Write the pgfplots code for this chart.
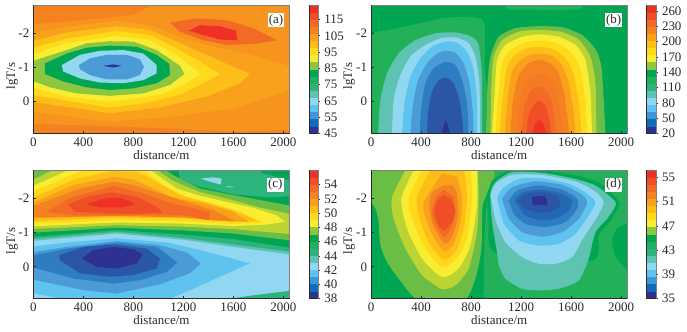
\documentclass[border=0pt]{standalone}
\usepackage{fontspec}
\setmainfont{Liberation Serif}
\usepackage{pgfplots}
\pgfplotsset{compat=1.18}
\definecolor{cnavy}{HTML}{2E3192}
\definecolor{cdark}{HTML}{2A56A5}
\definecolor{cdk}{HTML}{2468B4}
\definecolor{cblue}{HTML}{2E7DC1}
\definecolor{cmid}{HTML}{4A9BD6}
\definecolor{csky}{HTML}{5EC4EF}
\definecolor{cpale}{HTML}{92D7F2}
\definecolor{cteal}{HTML}{5FC3B1}
\definecolor{cteg}{HTML}{2DB37C}
\definecolor{cgb}{HTML}{22B058}
\definecolor{cg}{HTML}{00A651}
\definecolor{clg}{HTML}{6ABD45}
\definecolor{clh}{HTML}{8DC63F}
\definecolor{cyg}{HTML}{B9D433}
\definecolor{cy}{HTML}{F9ED32}
\definecolor{cya}{HTML}{FFD91A}
\definecolor{coa}{HTML}{FDBE17}
\definecolor{cob}{HTML}{F9A01C}
\definecolor{coc}{HTML}{F7941D}
\definecolor{cod}{HTML}{F58220}
\definecolor{coe}{HTML}{F47A23}
\definecolor{cof}{HTML}{F26A25}
\definecolor{cog}{HTML}{F04E27}
\definecolor{cr}{HTML}{EE3124}
\definecolor{cbb}{HTML}{0F6CB8}
\definecolor{cbc}{HTML}{3F97D8}
\definecolor{txt}{HTML}{2A2A2A}
\newcommand\pg[2]{\addplot[draw=none,fill=#1,mark=none,forget plot] coordinates {#2} -- cycle;}
\newcommand\bb[3]{\addplot[draw=none,fill=#1,mark=none,forget plot] coordinates {(0,#2)(1,#2)(1,#3)(0,#3)} -- cycle;}
\newcommand\bands{%
\bb{cnavy}{0}{1}\bb{cbb}{1}{2}\bb{cbc}{2}{3}\bb{csky}{3}{4}\bb{cpale}{4}{5}\bb{cteal}{5}{6}\bb{cteg}{6}{7}\bb{cgb}{7}{8}\bb{cg}{8}{9}%
\bb{clh}{9}{10}\bb{cy}{10}{11}\bb{cya}{11}{12}\bb{coa}{12}{13}\bb{cob}{13}{14}\bb{cod}{14}{15}\bb{cof}{15}{16}\bb{cog}{16}{17}\bb{cr}{17}{18}}
\tikzset{lab/.style={fill=white,inner sep=1.2pt,font=\fontsize{13}{13}\selectfont,text=txt}}
\pgfplotsset{
 common/.style={scale only axis, anchor=south west, tick align=inside, major tick length=3bp,
  tick style={draw=txt,line width=0.7pt}, axis line style={draw=black!50,line width=0.9pt},
  tick label style={font=\fontsize{13}{13}\selectfont,text=txt}, axis on top,
  after end axis/.code={\draw[txt,line width=0.9pt] (rel axis cs:0,1)--(rel axis cs:0,0)--(rel axis cs:1,0);}},
 panel/.style={common, width=256.3bp, height=128.3bp, xmin=0, xmax=2050, ymin=-2.82, ymax=0.94, y dir=reverse,
  xtick={0,400,800,1200,1600,2000}, xticklabels={0,400,800,1200,1600,2000},
  ytick={-2,-1,0}, yticklabels={-2,-1,0}, xtick pos=left, ytick pos=left,
  xticklabel style={yshift=-1bp}, yticklabel style={xshift=-0.5bp},
  xlabel={distance/m}, ylabel={lgT/s},
  xlabel style={at={(axis description cs:0.5,-0.165)},anchor=center,font=\fontsize{13}{13}\selectfont,text=txt},
  ylabel style={at={(axis description cs:-0.083,0.45)},anchor=center,font=\fontsize{13}{13}\selectfont,text=txt}},
 cbar/.style={common, width=9.3bp, height=128.3bp, xmin=0, xmax=1, ymin=0, ymax=18, xtick=\empty, ytick pos=right,
  tick align=outside, major tick length=2bp, yticklabel style={xshift=0.5bp}}
}
\begin{document}
\begin{tikzpicture}[x=1bp,y=1bp]
\path[use as bounding box] (0,0) rectangle (687,331);
% ---------- (a)
\begin{axis}[panel, at={(33.3bp,197.3bp)}]
\pg{cod}{(-50,-3)(2200,-3)(2200,1.1)(-50,1.1)}
\pg{coc}{(-20,-2.27)(267,-2.34)(533,-2.44)(800,-2.54)(987,-2.9)(2100,-2.9)(2100,0.84)(2050,0.83)(1600,0.88)(1067,0.78)(533,0.71)(-20,0.65)}
\pg{cob}{(-20,-2.0)(267,-2.2)(667,-2.37)(933,-2.24)(1173,-1.9)(1440,-1.61)(1707,-1.41)(2100,-0.98)(2100,-0.39)(1600,0.2)(1067,0.46)(613,0.59)(-20,0.29)}
\pg{coa}{(-20,-1.76)(267,-2.03)(667,-2.21)(933,-2.1)(1120,-1.8)(1387,-1.37)(1733,-0.81)(1653,-0.54)(1387,-0.15)(1013,0.17)(613,0.34)(-20,0)}
\pg{cya}{(-20,-1.56)(267,-1.85)(667,-2.07)(933,-1.95)(1173,-1.51)(1333,-1.17)(1493,-0.81)(1387,-0.59)(1173,-0.2)(880,0.05)(613,0.17)(-20,-0.2)}
\pg{cy}{(-20,-1.37)(267,-1.71)(667,-1.92)(933,-1.8)(1147,-1.37)(1333,-0.81)(1227,-0.54)(1013,-0.2)(613,0)(267,-0.15)(-20,-0.42)}
\pg{clh}{(-20,-1.17)(267,-1.51)(427,-1.71)(613,-1.77)(800,-1.76)(987,-1.51)(1173,-1.05)(1208,-0.81)(1093,-0.49)(880,-0.24)(613,-0.17)(347,-0.24)(133,-0.42)(-20,-0.63)}
\pg{cg}{(93,-1.12)(267,-1.41)(427,-1.58)(613,-1.64)(827,-1.61)(987,-1.37)(1088,-1.10)(1093,-0.78)(987,-0.54)(800,-0.39)(613,-0.34)(427,-0.42)(240,-0.59)(93,-0.81)}
\pg{cpale}{(227,-1.07)(373,-1.37)(533,-1.49)(720,-1.51)(880,-1.41)(987,-1.07)(987,-0.83)(880,-0.63)(720,-0.54)(533,-0.56)(373,-0.68)(240,-0.88)}
\pg{cmid}{(365,-1.07)(453,-1.27)(587,-1.37)(747,-1.37)(853,-1.24)(885,-1.02)(853,-0.78)(747,-0.65)(587,-0.65)(453,-0.78)(373,-0.95)}
\pg{cnavy}{(560,-1.05)(640,-1.09)(707,-1.05)(640,-1.0)}
\pg{cof}{(1093,-2.31)(1307,-2.44)(1547,-2.39)(1760,-2.15)(1952,-1.80)(1760,-1.69)(1547,-1.66)(1360,-1.80)(1173,-2.05)}
\pg{cr}{(1245,-2.08)(1333,-2.24)(1493,-2.21)(1621,-2.08)(1632,-1.80)(1493,-1.82)(1360,-1.95)}
\node[lab] at (axis cs:1941,-2.39) {(a)};
\end{axis}
\begin{axis}[cbar, at={(309bp,197.3bp)}, ytick={0,2.29,4.58,6.87,9.16,11.45,13.74,16.03}, yticklabels={45,55,65,75,85,95,105,115}]
\bands
\end{axis}
% ---------- (b)
\begin{axis}[panel, at={(371bp,197.3bp)}, ylabel style={at={(axis description cs:-0.086,0.45)}}, every axis plot/.append style={smooth,tension=0.4}]
\pg{cg}{(-50,-3)(2200,-3)(2200,1.1)(-50,1.1)}
\pg{cgb}{(1035,-2.9)(1661,-2.9)(1635,-2.70)(1101,-2.70)}
\pg{cgb}{(-20,-2.0)(168,-2.12)(381,-2.29)(568,-2.44)(755,-2.49)(875,-2.44)(909,-2.24)(909,-1.02)(901,0.98)(-20,0.98)}
\pg{cteal}{(56,0.98)(75,-0.05)(128,-0.83)(221,-1.41)(355,-1.80)(515,-2.0)(675,-2.03)(795,-1.92)(856,-1.71)(883,-1.02)(888,-0.05)(888,0.98)}
\pg{cpale}{(168,0.98)(181,-0.05)(235,-0.78)(315,-1.32)(435,-1.66)(568,-1.87)(688,-1.87)(781,-1.71)(835,-1.32)(867,-0.54)(872,0.98)}
\pg{csky}{(248,0.98)(267,0.05)(315,-0.73)(395,-1.27)(488,-1.61)(595,-1.76)(688,-1.73)(768,-1.46)(821,-0.93)(848,-0.05)(848,0.98)}
\pg{cmid}{(315,0.98)(333,0.15)(376,-0.63)(448,-1.12)(528,-1.41)(600,-1.49)(675,-1.43)(741,-1.12)(787,-0.54)(813,0.24)(821,0.98)}
\pg{cblue}{(389,0.98)(400,0.24)(435,-0.54)(501,-0.98)(595,-1.16)(675,-1.07)(728,-0.63)(768,0.05)(781,0.98)}
\pg{cdark}{(448,0.98)(456,0.34)(488,-0.29)(541,-0.63)(600,-0.70)(661,-0.54)(707,-0.05)(733,0.63)(736,0.98)}
\pg{cnavy}{(560,0.98)(600,0.56)(635,0.98)}
\pg{clg}{(920,0.98)(933,-0.54)(955,-1.32)(1021,-1.90)(1155,-2.15)(1341,-2.21)(1528,-2.18)(1688,-1.95)(1800,-1.51)(1843,-1.02)(1861,-0.05)(1875,0.98)}
\pg{cyg}{(955,0.98)(963,-0.54)(981,-1.32)(1048,-1.80)(1181,-2.05)(1341,-2.10)(1515,-2.05)(1661,-1.82)(1755,-1.32)(1795,-0.54)(1803,0.98)}
\pg{cy}{(968,0.98)(989,-0.24)(1008,-1.22)(1075,-1.66)(1208,-1.90)(1347,-1.97)(1501,-1.90)(1635,-1.66)(1715,-1.22)(1755,-0.24)(1768,0.98)}
\pg{cya}{(995,0.98)(1016,-0.05)(1048,-1.12)(1115,-1.51)(1235,-1.73)(1347,-1.79)(1475,-1.73)(1595,-1.46)(1667,-1.02)(1715,-0.05)(1728,0.98)}
\pg{coa}{(1027,0.98)(1053,-0.05)(1088,-1.02)(1155,-1.37)(1248,-1.56)(1347,-1.61)(1461,-1.53)(1555,-1.27)(1621,-0.78)(1667,0.15)(1683,0.98)}
\pg{cob}{(1069,0.98)(1093,-0.05)(1128,-0.88)(1195,-1.22)(1275,-1.37)(1347,-1.41)(1448,-1.34)(1528,-1.07)(1581,-0.54)(1621,0.34)(1635,0.98)}
\pg{cod}{(1115,0.98)(1133,0.05)(1181,-0.78)(1261,-1.12)(1347,-1.22)(1435,-1.12)(1501,-0.83)(1549,-0.15)(1587,0.98)}
\pg{coe}{(1168,0.98)(1187,0.05)(1235,-0.54)(1288,-0.75)(1347,-0.81)(1421,-0.73)(1475,-0.34)(1515,0.34)(1533,0.98)}
\pg{cof}{(1203,0.98)(1227,0.15)(1275,-0.29)(1347,-0.44)(1408,-0.29)(1453,0.15)(1480,0.98)}
\pg{cog}{(1240,0.98)(1261,0.39)(1301,0.10)(1347,-0.02)(1395,0.13)(1427,0.54)(1443,0.98)}
\pg{cr}{(1288,0.98)(1309,0.68)(1347,0.54)(1381,0.68)(1408,0.98)}
\node[lab] at (axis cs:1941,-2.39) {(b)};
\end{axis}
\begin{axis}[cbar, at={(646.7bp,197.3bp)}, ytick={0,2.15,4.30,6.45,8.6,10.75,12.9,15.05,17.2}, yticklabels={20,50,80,110,140,170,200,230,260}]
\bands
\end{axis}
% ---------- (c)
\begin{axis}[panel, at={(33.3bp,32.3bp)}, ymin=-2.81, ymax=0.93]
\pg{cpale}{(-50,-3)(2200,-3)(2200,1.1)(-50,1.1)}
\pg{cteg}{(1493,0.97)(1760,0.83)(2100,0.68)(2100,0.97)}
\pg{cteal}{(-20,-0.75)(667,-0.97)(1200,-0.79)(1600,-0.58)(2100,-0.34)(2100,-2.9)(-20,-2.9)}
\pg{cteg}{(-20,-0.81)(667,-1.02)(1200,-0.84)(1600,-0.65)(2100,-0.42)(2100,-2.9)(-20,-2.9)}
\pg{cg}{(-20,-0.87)(667,-1.07)(1200,-0.94)(1600,-0.81)(2100,-0.53)(2100,-2.9)(-20,-2.9)}
\pg{clg}{(-20,-0.99)(667,-1.14)(1200,-1.06)(1600,-0.97)(2100,-0.75)(2100,-1.75)(1600,-2.09)(1333,-2.28)(1120,-2.67)(1040,-2.86)(1030,-2.9)(-20,-2.9)}
\pg{cyg}{(-20,-1.10)(667,-1.21)(1200,-1.17)(1600,-1.10)(2100,-0.94)(2100,-1.50)(1787,-1.75)(1547,-1.99)(1333,-2.18)(1120,-2.50)(973,-2.86)(965,-2.9)(200,-2.9)(-20,-2.50)}
\pg{cy}{(-20,-1.18)(667,-1.29)(1200,-1.26)(1600,-1.19)(1867,-1.23)(2013,-1.31)(1947,-1.50)(1760,-1.72)(1547,-1.89)(1333,-2.07)(1147,-2.28)(1013,-2.62)(920,-2.86)(910,-2.9)(333,-2.9)(-20,-2.33)}
\pg{cya}{(-20,-1.26)(667,-1.36)(1200,-1.33)(1600,-1.25)(1840,-1.29)(1653,-1.60)(1440,-1.84)(1227,-2.04)(1040,-2.38)(867,-2.86)(860,-2.9)(453,-2.9)(-20,-2.17)}
\pg{coa}{(-20,-1.33)(667,-1.44)(1200,-1.41)(1573,-1.31)(1800,-1.33)(1600,-1.65)(1387,-1.87)(1173,-2.09)(987,-2.48)(827,-2.77)(640,-2.79)(347,-2.57)(-20,-1.99)}
\pg{cob}{(-20,-1.41)(667,-1.49)(1200,-1.46)(1440,-1.36)(1720,-1.31)(1600,-1.60)(1373,-1.84)(1093,-2.04)(933,-2.33)(800,-2.55)(640,-2.62)(320,-2.38)(-20,-1.84)}
\pg{cod}{(-20,-1.44)(667,-1.48)(1200,-1.44)(1440,-1.36)(1613,-1.33)(1440,-1.65)(1227,-1.89)(1013,-2.14)(800,-2.38)(640,-2.48)(373,-2.28)(-20,-1.75)}
\pg{cof}{(107,-1.60)(280,-1.99)(640,-2.36)(880,-2.14)(1067,-1.89)(1408,-1.60)(1408,-1.36)(1227,-1.50)(933,-1.52)(640,-1.50)(320,-1.50)}
\pg{cog}{(280,-1.82)(427,-2.04)(627,-2.17)(827,-2.04)(987,-1.75)(1040,-1.58)(880,-1.55)(640,-1.55)(333,-1.60)}
\pg{cr}{(432,-1.82)(533,-1.96)(627,-2.02)(720,-1.99)(813,-1.83)(720,-1.73)(533,-1.73)}
\pg{cteg}{(1160,-2.9)(1173,-2.57)(1307,-2.36)(1600,-2.11)(1893,-2.02)(2100,-2.07)(2100,-2.48)(1840,-2.72)(1787,-2.9)}
\pg{cpale}{(1339,-2.57)(1440,-2.61)(1507,-2.57)(1499,-2.40)(1413,-2.48)}
\pg{cpale}{(1533,-2.35)(1613,-2.33)(1573,-2.31)}
\pg{csky}{(-20,-0.58)(267,-0.71)(667,-0.83)(1067,-0.71)(1333,-0.49)(1733,-0.10)(1493,0.29)(1253,0.68)(1067,0.97)(267,0.97)(-20,0.75)}
\pg{cmid}{(-20,-0.42)(267,-0.58)(667,-0.75)(1013,-0.63)(1227,-0.42)(1339,-0.10)(1253,0.19)(1013,0.51)(667,0.78)(400,0.68)(-20,0.36)}
\pg{cblue}{(-20,-0.32)(267,-0.53)(667,-0.70)(987,-0.58)(1152,-0.13)(1067,0.15)(853,0.39)(640,0.49)(320,0.34)(-20,0)}
\pg{cdark}{(205,-0.34)(400,-0.58)(640,-0.65)(907,-0.53)(1013,-0.24)(987,0.05)(800,0.24)(613,0.29)(373,0.19)(213,-0.19)}
\pg{cnavy}{(387,-0.24)(480,-0.49)(640,-0.58)(800,-0.51)(875,-0.36)(827,-0.10)(667,0.05)(507,0)}
\node[lab] at (axis cs:1936,-2.39) {(c)};
\end{axis}
\begin{axis}[cbar, at={(309bp,32.3bp)}, ytick={0,2,4,6,8,10,12,14,16}, yticklabels={38,40,42,44,46,48,50,52,54}]
\bands
\end{axis}
% ---------- (d)
\begin{axis}[panel, at={(371bp,32.3bp)}, ymin=-2.81, ymax=0.93, ylabel style={at={(axis description cs:-0.086,0.45)}}, every axis plot/.append style={smooth,tension=0.4}]
\pg{cg}{(-50,-3)(2200,-3)(2200,1.1)(-50,1.1)}
\pg{cgb}{(901,0.98)(909,-1.0)(941,-2.47)(981,-2.9)(2100,-2.9)(2100,0.98)}
\pg{cg}{(2100,-1.35)(1968,-1.11)(1928,-0.72)(1968,-0.23)(2100,0.25)}
\pg{clg}{(-20,-2.0)(35,-1.7)(61,-1.31)(75,-0.63)(128,-0.14)(221,0.34)(381,0.97)(741,0.97)(835,0.34)(883,-0.53)(893,-1.79)(955,-2.9)(-20,-2.9)}
\pg{cyg}{(288,-2.9)(168,-2.03)(181,-1.40)(275,-0.53)(408,0.24)(568,0.65)(675,0.54)(781,0.05)(848,-1.02)(861,-1.99)(853,-2.9)}
\pg{cy}{(355,-2.9)(243,-2.0)(288,-1.12)(408,-0.24)(568,0.30)(701,0.05)(795,-0.63)(848,-1.79)(848,-2.9)}
\pg{cya}{(421,-2.9)(301,-2.0)(341,-1.27)(435,-0.53)(568,0.01)(688,-0.24)(768,-0.87)(808,-2.0)(795,-2.9)}
\pg{coa}{(488,-2.9)(368,-2.04)(395,-1.31)(475,-0.63)(581,-0.21)(675,-0.43)(741,-1.12)(768,-2.09)(741,-2.9)}
\pg{cob}{(568,-2.72)(421,-1.87)(448,-1.31)(515,-0.78)(589,-0.45)(661,-0.67)(715,-1.31)(728,-2.04)(688,-2.62)}
\pg{cod}{(581,-2.37)(483,-2.14)(467,-1.70)(501,-1.17)(589,-0.68)(648,-0.87)(696,-1.51)(688,-2.14)(648,-2.38)}
\pg{cof}{(581,-2.24)(515,-2.0)(488,-1.56)(528,-1.17)(581,-0.87)(635,-1.07)(675,-1.56)(661,-2.04)}
\pg{cog}{(581,-2.09)(528,-1.90)(508,-1.56)(541,-1.21)(589,-1.07)(648,-1.31)(675,-1.65)(635,-1.99)}
\pg{cg}{(968,-2.51)(1115,-2.83)(1368,-2.82)(1648,-2.66)(1821,-2.45)(1928,-2.13)(1987,-1.83)(1915,-1.35)(1821,-0.91)(1768,-0.18)(1000,-0.4)(941,-1.30)(928,-2.13)}
\pg{cteal}{(1021,-0.04)(1075,0.35)(1208,0.64)(1341,0.69)(1501,0.64)(1661,0.40)(1741,-0.23)(1795,-1.01)(1888,-1.40)(1960,-1.83)(1901,-2.08)(1795,-2.37)(1635,-2.56)(1368,-2.74)(1128,-2.76)(995,-2.47)(955,-2.13)(968,-1.30)(1008,-0.43)}
\pg{cpale}{(955,-2.08)(995,-2.42)(1128,-2.68)(1368,-2.68)(1635,-2.49)(1795,-2.19)(1861,-1.88)(1808,-1.45)(1701,-0.86)(1608,-0.28)(1475,-0.09)(1341,-0.09)(1208,-0.28)(1075,-0.72)(995,-1.35)}
\pg{csky}{(1008,-1.98)(1048,-2.27)(1181,-2.56)(1368,-2.58)(1581,-2.42)(1715,-2.17)(1795,-1.88)(1741,-1.50)(1635,-0.96)(1501,-0.67)(1341,-0.62)(1181,-0.77)(1061,-1.25)}
\pg{cmid}{(1048,-1.98)(1128,-2.32)(1315,-2.49)(1528,-2.39)(1688,-2.10)(1728,-1.86)(1661,-1.40)(1528,-1.01)(1368,-0.88)(1208,-1.01)(1101,-1.40)}
\pg{cblue}{(1101,-1.93)(1168,-2.22)(1328,-2.37)(1528,-2.25)(1648,-1.98)(1648,-1.69)(1555,-1.30)(1395,-1.16)(1235,-1.25)(1141,-1.54)}
\pg{cdk}{(1149,-1.93)(1208,-2.16)(1341,-2.25)(1501,-2.16)(1608,-1.93)(1581,-1.64)(1475,-1.40)(1341,-1.37)(1221,-1.51)}
\pg{cdark}{(1173,-1.93)(1248,-2.13)(1368,-2.17)(1475,-2.10)(1515,-1.88)(1501,-1.74)(1421,-1.59)(1315,-1.59)(1221,-1.71)}
\pg{cnavy}{(1288,-2.03)(1387,-2.06)(1408,-1.81)(1293,-1.81)}
\node[lab] at (axis cs:1941,-2.39) {(d)};
\end{axis}
\begin{axis}[cbar, at={(646.7bp,32.3bp)}, ytick={0,3.4,6.8,10.2,13.6,17}, yticklabels={35,39,43,47,51,55}]
\bands
\end{axis}
\end{tikzpicture}
\end{document}
